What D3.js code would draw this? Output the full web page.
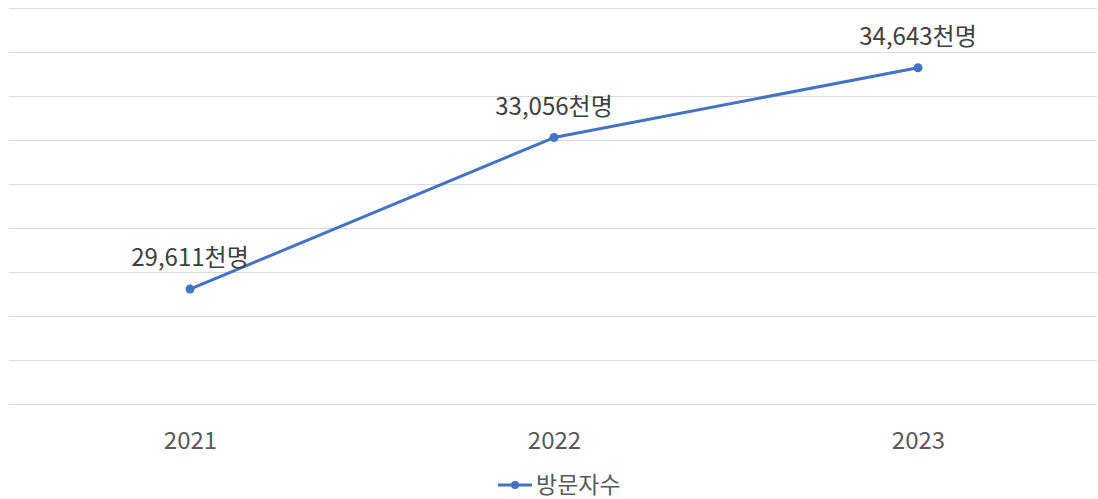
<!DOCTYPE html>
<html><head><meta charset="utf-8">
<script src="https://cdn.jsdelivr.net/npm/d3@7"></script>
<style>body{margin:0;background:#fff}svg{display:block}text{font-family:"Noto Sans CJK KR","Noto Sans",sans-serif}</style>
</head><body>
<svg id="c" width="1098" height="499"></svg>
<script>
const categories = ["2021","2022","2023"];
const values = [29611, 33056, 34643];
const labels = ["29,611천명","33,056천명","34,643천명"];
const seriesName = "방문자수";
const yTicks = [27000,28000,29000,30000,31000,32000,33000,34000,35000,36000];

const svg = d3.select("#c");
const pLeft = 8, pRight = 1100, pTop = 8, pBottom = 404;
const x = d3.scalePoint().domain(categories).range([pLeft, pRight]).padding(0.5);
const y = d3.scaleLinear().domain([27000, 36000]).range([pBottom, pTop]);
const color = "#4472C4";

svg.append("g").selectAll("line").data(yTicks).join("line")
  .attr("x1", 9).attr("x2", 1097)
  .attr("y1", d => Math.round(y(d)) + 0.5).attr("y2", d => Math.round(y(d)) + 0.5)
  .attr("stroke", "#d9d9d9").attr("stroke-width", 1);

const xAxis = svg.append("g").attr("transform", `translate(0,${pBottom})`)
  .call(d3.axisBottom(x).tickSize(0).tickPadding(0));
xAxis.select(".domain").remove();
xAxis.selectAll("text").attr("y", 45).attr("dy", null)
  .attr("font-size", 24).attr("fill", "#595959")
  .style("font-family", '"Noto Sans CJK KR","Noto Sans",sans-serif');

const line = d3.line().x((d, i) => x(categories[i])).y(d => y(d));
svg.append("path").datum(values).attr("d", line)
  .attr("fill", "none").attr("stroke", color).attr("stroke-width", 3)
  .attr("stroke-linejoin", "round").attr("stroke-linecap", "round");

svg.append("g").selectAll("circle").data(values).join("circle")
  .attr("cx", (d, i) => x(categories[i])).attr("cy", d => y(d)).attr("r", 4.5)
  .attr("fill", color);

svg.append("g").selectAll("text").data(values).join("text")
  .attr("x", (d, i) => x(categories[i])).attr("y", d => y(d) - 23)
  .attr("text-anchor", "middle").attr("font-size", 24).attr("fill", "#404040")
  .text((d, i) => labels[i]);

const lg = svg.append("g");
lg.append("line").attr("x1", 498).attr("x2", 532).attr("y1", 485).attr("y2", 485)
  .attr("stroke", color).attr("stroke-width", 3);
lg.append("circle").attr("cx", 515).attr("cy", 485).attr("r", 4).attr("fill", color);
lg.append("text").attr("x", 536).attr("y", 493).attr("font-size", 23).attr("fill", "#595959").text(seriesName);
</script>
</body></html>
